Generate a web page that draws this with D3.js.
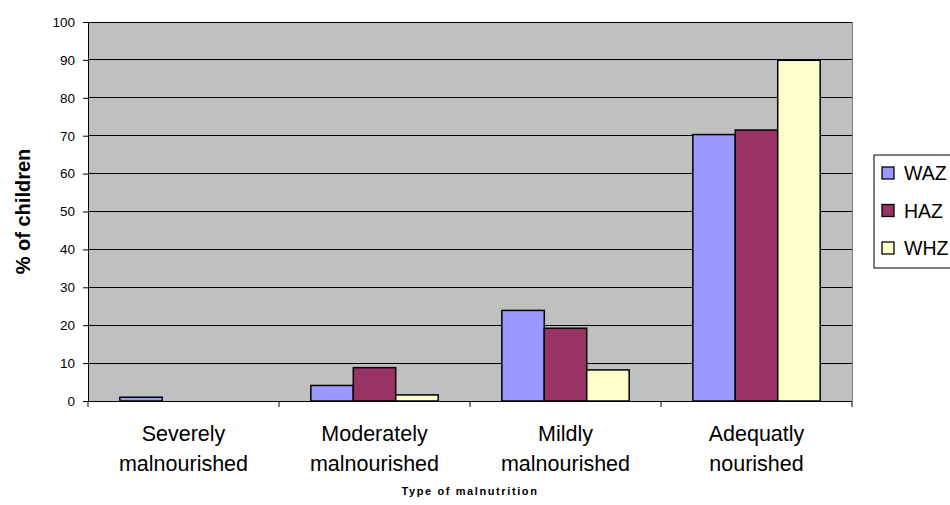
<!DOCTYPE html>
<html><head><meta charset="utf-8">
<script src="https://cdn.jsdelivr.net/npm/d3@7"></script>
<style>body{margin:0;background:#fff}svg{display:block;font-family:"Liberation Sans",Arial,sans-serif}</style>
</head><body><svg id="c" width="950" height="505"></svg>
<script>
const categories = [["Severely","malnourished"],["Moderately","malnourished"],["Mildly","malnourished"],["Adequatly","nourished"]];
const seriesNames = ["WAZ","HAZ","WHZ"];
const WAZ = [1.0, 4.1, 23.9, 70.3];
const HAZ = [0, 8.8, 19.2, 71.5];
const WHZ = [0, 1.6, 8.2, 89.9];
const yTicks = [0,10,20,30,40,50,60,70,80,90,100];
const colors = ["#9999FF","#993366","#FFFFCC"];

const svg = d3.select("#c");
const L=88, R=852, T=22, B=401;
const x0 = d3.scaleBand().domain(d3.range(categories.length)).range([L,R]).paddingInner(0).paddingOuter(0);
const x1 = d3.scaleBand().domain(seriesNames).range([0,x0.bandwidth()]).paddingInner(0).paddingOuter(0.75);
const y = d3.scaleLinear().domain([0,100]).range([B,T]);

svg.append("rect").attr("x",L).attr("y",T).attr("width",R-L).attr("height",B-T).attr("fill","#C0C0C0");
svg.append("g").selectAll("line").data(yTicks.filter(d=>d>0)).join("line")
  .attr("x1",L).attr("x2",R).attr("y1",d=>y(d)).attr("y2",d=>y(d)).attr("stroke","#000").attr("stroke-width",1)
  .attr("shape-rendering","crispEdges");
svg.append("line").attr("x1",R).attr("x2",R).attr("y1",T).attr("y2",B).attr("stroke","#808080").attr("shape-rendering","crispEdges");

const data = [WAZ,HAZ,WHZ];
const g = svg.append("g");
categories.forEach((c,i)=>{
  seriesNames.forEach((s,j)=>{
    const v = data[j][i];
    if(v<=0) return;
    g.append("rect").attr("x",x0(i)+x1(s)).attr("y",y(v)).attr("width",x1.bandwidth()).attr("height",y(0)-y(v))
      .attr("fill",colors[j]).attr("stroke","#000").attr("stroke-width",1.5);
  });
});

const ya = svg.append("g").attr("transform",`translate(${L},0)`)
  .call(d3.axisLeft(y).tickValues(yTicks).tickSize(5).tickPadding(8));
ya.select(".domain").attr("stroke","#000");
ya.selectAll("text").attr("font-size",13.5).attr("fill","#000").attr("font-family","Liberation Sans, Arial, sans-serif");
const xa = svg.append("g").attr("transform",`translate(0,${B})`);
xa.append("line").attr("x1",L).attr("x2",R).attr("stroke","#000").attr("shape-rendering","crispEdges");
xa.selectAll("line.t").data(d3.range(categories.length+1)).join("line").attr("class","t")
  .attr("x1",d=>L+d*x0.step()).attr("x2",d=>L+d*x0.step()).attr("y1",0).attr("y2",6).attr("stroke","#000");
categories.forEach((c,i)=>{
  const cx = x0(i)+x0.bandwidth()/2;
  const t = svg.append("text").attr("x",cx).attr("y",441).attr("text-anchor","middle")
    .attr("font-size",21.5).attr("fill","#000");
  c.forEach((line,k)=>t.append("tspan").attr("x",cx).attr("dy",k===0?0:29.5).text(line));
});
svg.append("text").attr("x",(L+R)/2).attr("y",495).attr("text-anchor","middle").attr("font-size",11)
  .attr("font-weight","bold").attr("letter-spacing",1.6).text("Type of malnutrition");
svg.append("text").attr("transform",`translate(30,${(T+B)/2}) rotate(-90)`).attr("text-anchor","middle")
  .attr("font-size",20).attr("font-weight","bold").text("% of children");

const lg = svg.append("g");
lg.append("rect").attr("x",874).attr("y",155).attr("width",100).attr("height",113).attr("fill","#fff").attr("stroke","#000");
seriesNames.forEach((s,j)=>{
  const cy = 173 + j*37.5;
  lg.append("rect").attr("x",882).attr("y",cy-6).attr("width",12).attr("height",12).attr("fill",colors[j]).attr("stroke","#000").attr("stroke-width",1.3);
  lg.append("text").attr("x",904).attr("y",cy+7).attr("font-size",19.5).text(s);
});
</script></body></html>
